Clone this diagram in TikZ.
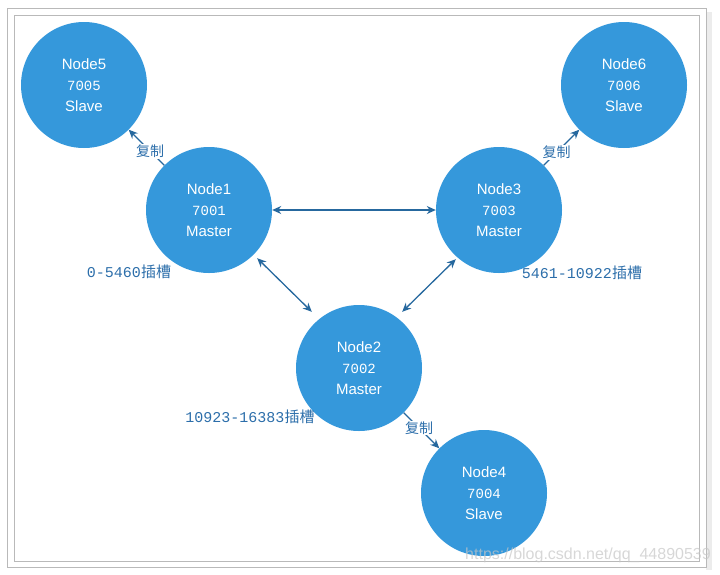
\documentclass[tikz,border=0pt]{standalone}
\usepackage{fontspec}
\setmainfont{Liberation Sans}
\newfontfamily\cjk{Noto Sans CJK SC}
\newfontfamily\digits{Liberation Mono}
\usepackage{tikz}
\usetikzlibrary{arrows.meta,calc}
\definecolor{nodeblue}{RGB}{53,152,219}
\definecolor{arrowblue}{RGB}{38,104,158}
\definecolor{labelblue}{RGB}{44,110,170}
\definecolor{framegray}{RGB}{185,185,185}
\tikzset{
  redis/.style={circle,fill=nodeblue,draw=none,minimum size=126pt,inner sep=0pt,text=white,align=center,font=\fontsize{15}{21}\selectfont},
  link/.style={draw=arrowblue,line width=1.3pt,{Stealth[length=9pt,width=8pt]}-{Stealth[length=9pt,width=8pt]}},
  copy/.style={draw=arrowblue,line width=1.3pt,-{Stealth[length=9pt,width=8pt]}},
  copytext/.style={fill=white,inner sep=1pt,text=labelblue,font=\cjk\fontsize{14}{14}\selectfont},
  slots/.style={text=labelblue,inner sep=0pt,font=\fontsize{15}{15}\selectfont},
}
\newcommand{\port}[1]{{\digits\fontsize{14}{21}\selectfont #1}}

\begin{document}
\begin{tikzpicture}[x=1pt,y=-1pt]
\useasboundingbox (0,0) rectangle (720,574);
% frame
\fill[gray!15] (706,12) rectangle (712,570);
\draw[framegray] (7,8) rectangle (706,567);
\draw[framegray] (14,15) rectangle (699,561);

\node[redis] (n5) at (84,85) {Node5\\\port{7005}\\Slave};
\node[redis] (n6) at (624,85) {Node6\\\port{7006}\\Slave};
\node[redis] (n1) at (209,210) {Node1\\\port{7001}\\Master};
\node[redis] (n3) at (499,210) {Node3\\\port{7003}\\Master};
\node[redis] (n2) at (359,368) {Node2\\\port{7002}\\Master};
\node[redis] (n4) at (484,493) {Node4\\\port{7004}\\Slave};

% master links
\draw[link] (n1) -- (n3);
\draw[link] ([shift={(3.5,3.5)}]n1.-45) -- ([shift={(-2.5,-11.5)}]n2.135);
\draw[link] ([shift={(1.5,4.5)}]n3.-135) -- ([shift={(-1.5,-11.5)}]n2.45);

% replication
\draw[copy] (n1.135) -- node[copytext,pos=0.4] (c5) {复制} (n5.-45);
\draw[copy] (n3.45) -- node[copytext,pos=0.36] (c6) {复制} (n6.-135);
\draw[copy] (n2.-45) -- node[copytext,pos=0.43] (c4) {复制} (n4.135);

% slot ranges
\node[slots] (s1) at (129,272) {{\digits 0-5460}{\cjk 插槽}};
\node[slots] (s3) at (582,273) {{\digits 5461-10922}{\cjk 插槽}};
\node[slots] (s2) at (250,417) {{\digits 10923-16383}{\cjk 插槽}};

\node[text=gray!45,opacity=0.7,font=\fontsize{16}{16}\selectfont] (wm) at (588,555) {https://blog.csdn.net/qq\_44890539};
\end{tikzpicture}
\end{document}
